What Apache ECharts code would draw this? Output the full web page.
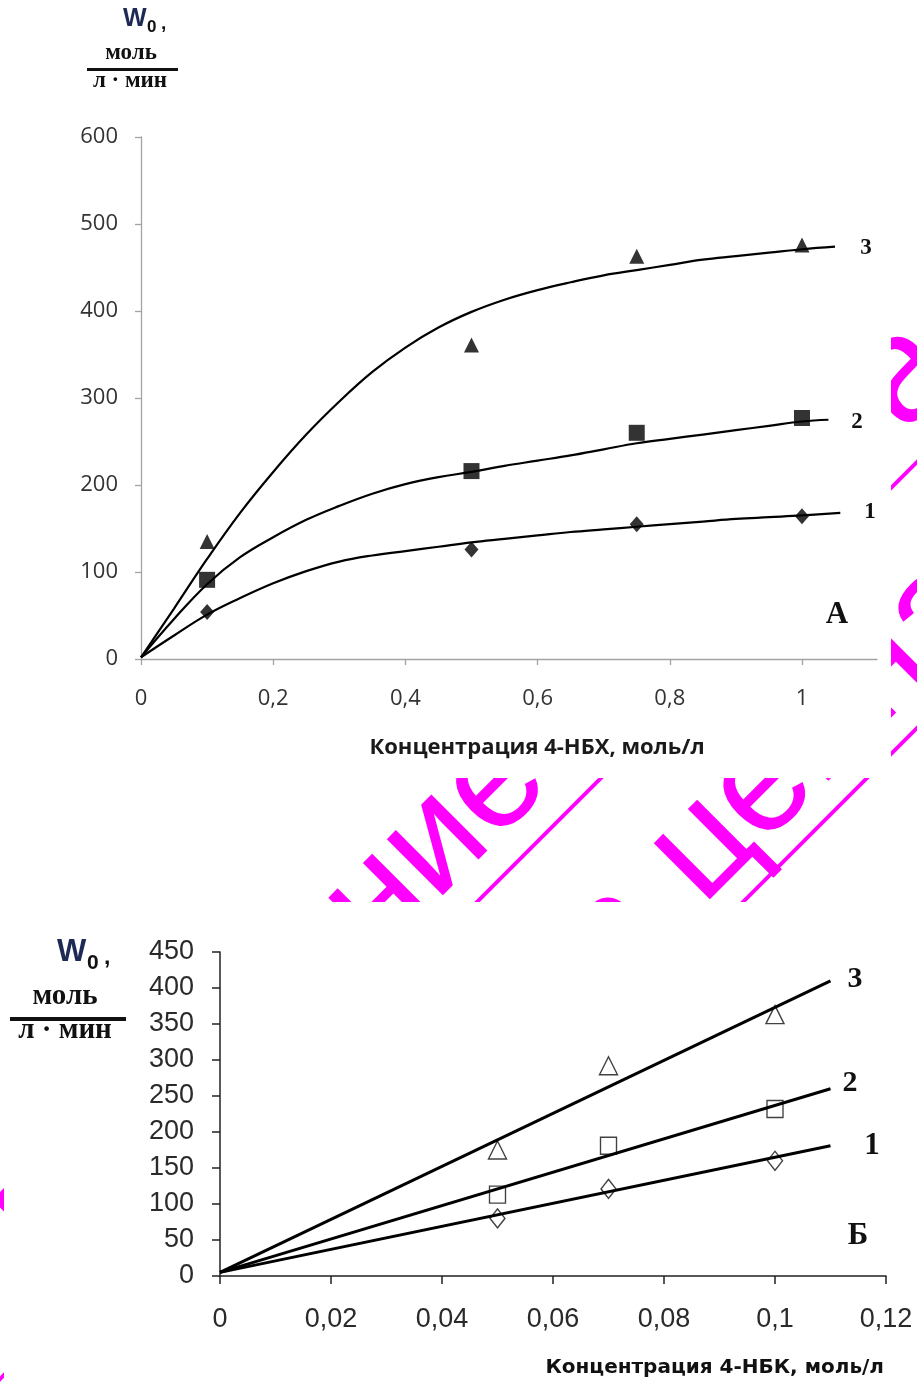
<!DOCTYPE html>
<html>
<head>
<meta charset="utf-8">
<script src="https://cdn.jsdelivr.net/npm/echarts@6/dist/echarts.min.js"></script>
<style>
  html, body { margin: 0; padding: 0; background: #fff; }
  #chart { width: 917px; height: 1385px; }
</style>
</head>
<body>
<div id="chart"></div>
<script>
// ---- Panel А: initial rate W0 vs concentration of 4-НБХ ----
const concA = [0.1, 0.5, 0.75, 1];
const rateA1 = [54, 126, 155, 164];   // curve 1, diamonds
const rateA2 = [91, 216, 260, 277];   // curve 2, squares
const rateA3 = [135, 361, 463, 476];  // curve 3, triangles

// fitted curves of panel А
const fitAx = [0, 0.05, 0.1, 0.15, 0.2, 0.25, 0.3, 0.35, 0.4, 0.45, 0.5, 0.55,
               0.6, 0.65, 0.7, 0.75, 0.8, 0.85, 0.9, 0.95, 1.0];
const fitA1y = [2, 27, 51, 70, 87, 101, 112, 119, 124, 129, 134, 138,
                142, 146, 149, 152, 155, 158, 161, 163, 165];
const fitA2y = [2, 46, 86, 117, 140, 160, 176, 190, 201, 209, 215, 222,
                228, 234, 241, 248, 253, 258, 263, 268, 273];
const fitA3y = [2, 58, 115, 168, 215, 258, 296, 330, 358, 381, 399, 413,
                424, 433, 441, 447, 453, 459, 463, 467, 471];
// end points of the three curves beyond x = 1
const fitAEndX = [1.058, 1.04, 1.05];
const fitAEndY = [168, 275, 474];

const ticksAX = [0, 0.2, 0.4, 0.6, 0.8, 1];

// ---- Panel Б: initial rate W0 vs concentration of 4-НБК ----
const concB = [0.05, 0.07, 0.1];
const rateB1 = [80, 121, 160];
const rateB2 = [113, 181, 232];
const rateB3 = [175, 292, 363];

const fitBx = [0, 0.11];
const fitB1y = [5, 181];
const fitB2y = [5, 260];
const fitB3y = [5, 410];

const curveLabels = ['1', '2', '3'];

// ---- helpers ----
const pairs = (xs, ys) => xs.map((x, i) => [x, ys[i]]);
const withEnd = (ys, k) => pairs(fitAx, ys).concat([[fitAEndX[k], fitAEndY[k]]]);
const comma = v => String(+(+v).toFixed(3)).replace('.', ',');

const SERIF = "'Liberation Serif', 'Times New Roman', serif";
const SANS = "'Liberation Sans', Arial, sans-serif";
const MAGENTA = '#ff00ff';
const WM_SIZE = 150;

// watermark text: (bx, by) is the baseline point where the two halves meet
function wmText(bx, by, text, align) {
  const off = 0.3465 * WM_SIZE / Math.SQRT2;   // baseline -> em middle, rotated 45°
  return {
    type: 'text', x: bx - off, y: by - off, rotation: Math.PI / 4, z: -20, silent: true,
    style: { text: text, font: WM_SIZE + 'px ' + SANS, fill: MAGENTA,
             textAlign: align, textVerticalAlign: 'middle' }
  };
}
function wmUnderline(c) {
  // long rule along x + y = c
  return {
    type: 'line', z: -20, silent: true,
    shape: { x1: -100, y1: c + 100, x2: c + 100, y2: -100 },
    style: { stroke: MAGENTA, lineWidth: 4 }
  };
}
function label(x, y, text, font, align) {
  return { type: 'text', x: x, y: y,
           style: { text: text, font: font, fill: '#111', textAlign: align || 'center', textVerticalAlign: 'middle' } };
}

const graphics = [
  // diagonal watermark lines behind the two panels
  wmText(443, 910, 'Вниман', 'right'),
  wmText(443, 910, 'ие! Работа защищена', 'left'),
  wmUnderline(1379),
  wmText(710, 914, 'Работа ', 'right'),
  wmText(710, 914, 'ценная', 'left'),
  wmUnderline(1645),
  // white panels
  { type: 'rect', z: -10, silent: true, shape: { x: 0, y: 0, width: 891, height: 778 }, style: { fill: '#fff' } },
  { type: 'rect', z: -10, silent: true, shape: { x: 4, y: 902, width: 913, height: 483 }, style: { fill: '#fff' } },

  // panel А axis title
  { type: 'text', x: 123, y: 19, style: { text: 'W', font: 'bold 25px ' + SANS, fill: '#1c2a55', textVerticalAlign: 'middle' } },
  label(147, 27, '0', 'bold 17px ' + SANS, 'left'),
  label(161, 24, ',', 'bold 19px ' + SANS, 'left'),
  label(131, 53, 'моль', 'bold 23px ' + SERIF),
  { type: 'line', shape: { x1: 87, y1: 69.5, x2: 178, y2: 69.5 }, style: { stroke: '#111', lineWidth: 3 } },
  label(130, 81, 'л · мин', 'bold 23px ' + SERIF),
  { type: 'text', x: 537, y: 748, style: { text: 'Концентрация 4-НБХ, моль/л', font: 'bold 22px "Open Sans", sans-serif', fill: '#1a1a1a', textAlign: 'center', textVerticalAlign: 'middle' } },
  // panel А curve numbers and letter
  label(870, 512, curveLabels[0], 'bold 23px ' + SERIF),
  label(857, 422, curveLabels[1], 'bold 23px ' + SERIF),
  label(866, 248, curveLabels[2], 'bold 23px ' + SERIF),
  label(837, 615, 'А', 'bold 31px ' + SERIF),

  // panel Б axis title
  { type: 'text', x: 57, y: 952, style: { text: 'W', font: 'bold 31px ' + SANS, fill: '#1c2a55', textVerticalAlign: 'middle' } },
  label(87, 963, '0', 'bold 21px ' + SANS, 'left'),
  label(104, 958, ',', 'bold 23px ' + SANS, 'left'),
  label(65, 997, 'моль', 'bold 29px ' + SERIF),
  { type: 'line', shape: { x1: 10, y1: 1019, x2: 126, y2: 1019 }, style: { stroke: '#111', lineWidth: 4 } },
  label(65, 1031, 'л · мин', 'bold 29px ' + SERIF),
  label(884, 1368, 'Концентрация 4-НБК, моль/л', "bold 20px 'DejaVu Sans', sans-serif", 'right'),
  // panel Б curve numbers and letter
  label(872, 1146, curveLabels[0], 'bold 31px ' + SERIF),
  label(850, 1083, curveLabels[1], 'bold 30px ' + SERIF),
  label(855, 979, curveLabels[2], 'bold 30px ' + SERIF),
  label(858, 1236, 'Б', 'bold 31px ' + SERIF)
];

const axisA = { color: '#a3a3a3', width: 1.3 };
const labelA = { color: '#333', fontFamily: '"Open Sans", sans-serif', fontSize: 22 };
const axisB = { color: '#222', width: 1.5 };
const labelB = { color: '#2a2a2a', fontFamily: SANS, fontSize: 27 };

const curveStyleA = { color: '#000', width: 2.2 };
const option = {
  animation: false,
  backgroundColor: '#fff',
  grid: [
    { left: 141, top: 137, width: 736, height: 522 },
    { left: 220, top: 952, width: 666, height: 324 }
  ],
  xAxis: [
    {
      gridIndex: 0, type: 'value', min: 0, max: 1.1135, interval: 0.2,
      axisLine: { show: true, lineStyle: axisA },
      axisTick: { show: true, length: 6, lineStyle: axisA, customValues: ticksAX },
      axisLabel: Object.assign({ margin: 29, customValues: ticksAX, formatter: comma }, labelA),
      splitLine: { show: false }
    },
    {
      gridIndex: 1, type: 'value', min: 0, max: 0.12, interval: 0.02,
      axisLine: { show: true, lineStyle: axisB },
      axisTick: { show: true, length: 8, lineStyle: axisB },
      axisLabel: Object.assign({ margin: 30, formatter: comma }, labelB),
      splitLine: { show: false }
    }
  ],
  yAxis: [
    {
      gridIndex: 0, type: 'value', min: 0, max: 600, interval: 100,
      axisLine: { show: true, lineStyle: axisA },
      axisTick: { show: true, length: 6, lineStyle: axisA },
      axisLabel: Object.assign({ margin: 23 }, labelA),
      splitLine: { show: false }
    },
    {
      gridIndex: 1, type: 'value', min: 0, max: 450, interval: 50,
      axisLine: { show: true, lineStyle: axisB },
      axisTick: { show: true, length: 8, lineStyle: axisB },
      axisLabel: Object.assign({ margin: 26 }, labelB),
      splitLine: { show: false }
    }
  ],
  graphic: { elements: graphics },
  series: [
    // panel А fitted curves
    { type: 'line', xAxisIndex: 0, yAxisIndex: 0, data: withEnd(fitA1y, 0), smooth: 0.4, showSymbol: false, lineStyle: curveStyleA, z: 2 },
    { type: 'line', xAxisIndex: 0, yAxisIndex: 0, data: withEnd(fitA2y, 1), smooth: 0.4, showSymbol: false, lineStyle: curveStyleA, z: 2 },
    { type: 'line', xAxisIndex: 0, yAxisIndex: 0, data: withEnd(fitA3y, 2), smooth: 0.4, showSymbol: false, lineStyle: curveStyleA, z: 2 },
    // panel А measured points
    { type: 'scatter', xAxisIndex: 0, yAxisIndex: 0, data: pairs(concA, rateA1), symbol: 'diamond', symbolSize: [14, 16], itemStyle: { color: '#000' }, z: 3 },
    { type: 'scatter', xAxisIndex: 0, yAxisIndex: 0, data: pairs(concA, rateA2), symbol: 'rect', symbolSize: [16, 16], itemStyle: { color: '#000' }, z: 3 },
    { type: 'scatter', xAxisIndex: 0, yAxisIndex: 0, data: pairs(concA, rateA3), symbol: 'triangle', symbolSize: [15, 15], itemStyle: { color: '#000' }, z: 3 },
    // panel Б measured points (open symbols)
    { type: 'scatter', xAxisIndex: 1, yAxisIndex: 1, data: pairs(concB, rateB1), symbol: 'diamond', symbolSize: [15, 19], itemStyle: { color: '#fff', borderColor: '#111', borderWidth: 1.4 }, z: 2 },
    { type: 'scatter', xAxisIndex: 1, yAxisIndex: 1, data: pairs(concB, rateB2), symbol: 'rect', symbolSize: [16, 17], itemStyle: { color: '#fff', borderColor: '#111', borderWidth: 1.4 }, z: 2 },
    { type: 'scatter', xAxisIndex: 1, yAxisIndex: 1, data: pairs(concB, rateB3), symbol: 'triangle', symbolSize: [18, 18], itemStyle: { color: '#fff', borderColor: '#111', borderWidth: 1.4 }, z: 2 },
    // panel Б fitted lines
    { type: 'line', xAxisIndex: 1, yAxisIndex: 1, data: pairs(fitBx, fitB1y), showSymbol: false, lineStyle: { color: '#000', width: 3 }, z: 3 },
    { type: 'line', xAxisIndex: 1, yAxisIndex: 1, data: pairs(fitBx, fitB2y), showSymbol: false, lineStyle: { color: '#000', width: 3 }, z: 3 },
    { type: 'line', xAxisIndex: 1, yAxisIndex: 1, data: pairs(fitBx, fitB3y), showSymbol: false, lineStyle: { color: '#000', width: 3 }, z: 3 }
  ]
};

const chart = echarts.init(document.getElementById('chart'), null, { renderer: 'canvas' });
chart.setOption(option);
</script>
</body>
</html>
